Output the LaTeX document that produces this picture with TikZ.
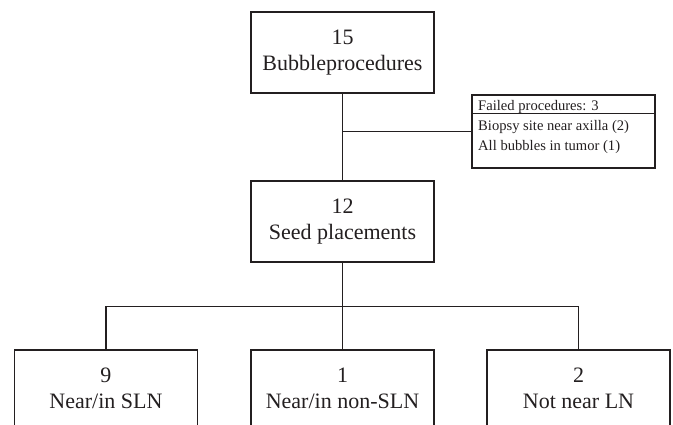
\documentclass[tikz,border=0pt]{standalone}
\usepackage{fontspec}
\setmainfont{Liberation Serif}
\usetikzlibrary{calc}
\definecolor{ink}{HTML}{231F20}
\tikzset{
  box/.style={draw=ink, line width=1.2pt, minimum width=183pt, minimum height=81pt, inner sep=0pt, align=center, text=ink, font=\fontsize{22}{26}\selectfont},
  lowbox/.style={box, minimum height=76pt},
  link/.style={draw=ink, line width=1.2pt},
  small/.style={text=ink, font=\fontsize{14.6}{19}\selectfont, inner sep=0pt, anchor=base west}
}
\begin{document}
\begin{tikzpicture}[x=1pt,y=-1pt]
\useasboundingbox (0,0) rectangle (673,425);
\clip (0,0) rectangle (673,425);
\node[box] (top) at (342.5,52.5) {15\\Bubbleprocedures};
\node[box] (mid) at (342.5,221.5) {12\\Seed placements};
\node[lowbox] (b1) at (106,388) {9\\Near/in SLN};
\node[lowbox] (b2) at (342.5,388) {1\\Near/in non-SLN};
\node[lowbox] (b3) at (578.5,388) {2\\Not near LN};
\node[box, minimum height=73pt] (fail) at (563.5,131.5) {};
\node[small] (ftitle) at (478,111) {Failed procedures: 3};
\node[small] (fitem1) at (478,131) {Biopsy site near axilla (2)};
\node[small] (fitem2) at (478,151) {All bubbles in tumor (1)};
\draw[link] ($(fail.north west)+(0,19)$) -- ($(fail.north east)+(0,19)$);
\coordinate (j1) at (top.south |- fail.west);
\coordinate (j2) at ($(mid.south)+(0,44)$);
\draw[link] (top.south) -- (mid.north);
\draw[link] (j1) -- (fail.west);
\draw[link] (mid.south) -- (j2);
\draw[link] (b1.north) -- (b1.north |- j2) -- (b3.north |- j2) -- (b3.north);
\draw[link] (j2) -- (b2.north);
\end{tikzpicture}
\end{document}
